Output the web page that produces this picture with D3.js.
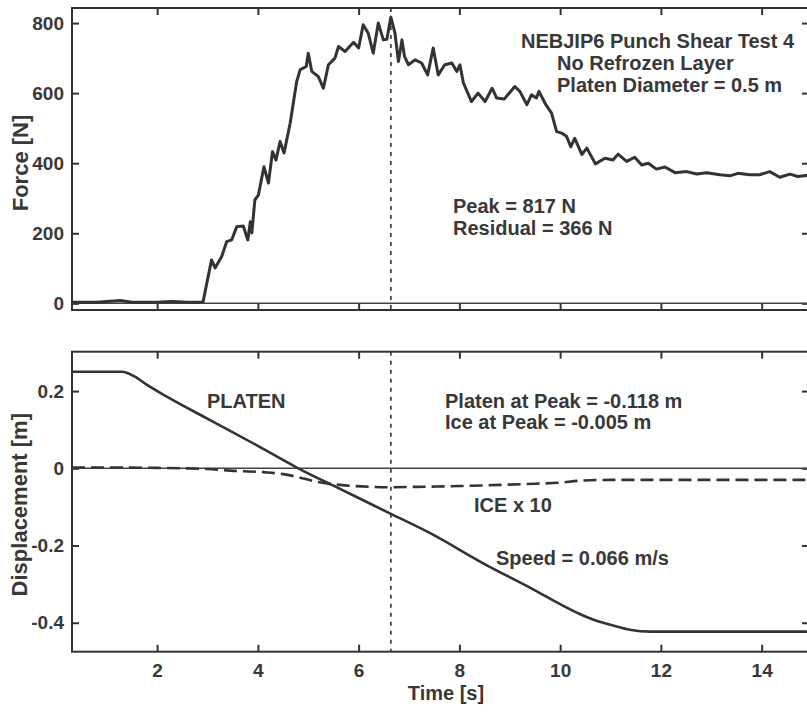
<!DOCTYPE html>
<html>
<head>
<meta charset="utf-8">
<script src="https://cdn.jsdelivr.net/npm/d3@7"></script>
<style>
  body { margin: 0; background: #fff; }
  svg text { font-family: "Liberation Sans", Arial, sans-serif; font-weight: bold; fill: #383838; }
</style>
</head>
<body>
<div id="chart"></div>
<script>
// tick values
const timeTicks = [2, 4, 6, 8, 10, 12, 14];
const forceTicks = [0, 200, 400, 600, 800];
const dispTicks = [-0.4, -0.2, 0, 0.2];

// force record
const forceTime = [
  0.31, 0.8, 1.27, 1.5, 2.0, 2.29, 2.6, 2.91, 3.08, 3.15,
  3.28, 3.38, 3.48, 3.58, 3.71, 3.80, 3.85, 3.88, 3.94, 4.01,
  4.12, 4.21, 4.29, 4.36, 4.44, 4.52, 4.64, 4.77, 4.84, 4.96,
  5.0, 5.07, 5.2, 5.3, 5.40, 5.53, 5.6, 5.73, 5.9, 6.0,
  6.09, 6.19, 6.29, 6.39, 6.49, 6.56, 6.64, 6.72, 6.79, 6.86,
  6.91, 6.99, 7.12, 7.25, 7.37, 7.48, 7.58, 7.71, 7.85, 7.95,
  8.01, 8.08, 8.24, 8.37, 8.51, 8.65, 8.74, 8.89, 9.10, 9.20,
  9.34, 9.43, 9.53, 9.58, 9.70, 9.83, 9.93, 10.03, 10.13, 10.21,
  10.29, 10.43, 10.53, 10.70, 10.89, 11.05, 11.15, 11.32, 11.48, 11.62,
  11.75, 11.91, 12.08, 12.28, 12.51, 12.71, 12.91, 13.17, 13.37, 13.53,
  13.76, 13.96, 14.16, 14.36, 14.56, 14.72, 14.94
];
const forceValue = [
  3, 3, 8, 3, 3, 5, 3, 3, 124, 101,
  133, 176, 181, 219, 221, 181, 233, 201, 295, 309,
  390, 343, 433, 409, 462, 429, 514, 633, 667, 676,
  714, 662, 647, 614, 681, 700, 733, 719, 745, 729,
  795, 771, 714, 800, 752, 754, 817, 772, 690, 752,
  705, 681, 695, 686, 652, 729, 652, 681, 686, 662,
  681, 629, 576, 600, 576, 614, 586, 583, 619, 605,
  567, 595, 586, 605, 571, 543, 490, 486, 476, 447,
  471, 425, 443, 398, 414, 409, 426, 405, 417, 395,
  400, 383, 389, 373, 376, 369, 373, 367, 364, 371,
  367, 367, 376, 360, 369, 362, 366
];

// platen displacement
const platenTime = [0.31, 1.30, 1.55, 1.80, 2.2, 3.05, 4.0, 4.80, 5.5, 6.64, 7.42, 8.5, 9.5, 10.0, 10.4, 10.72, 11.05, 11.38, 11.8, 14.94];
const platenDisp = [0.25, 0.25, 0.238, 0.216, 0.185, 0.125, 0.058, 0.0, -0.045, -0.118, -0.168, -0.248, -0.316, -0.352, -0.378, -0.395, -0.407, -0.418, -0.423, -0.423];

// ice displacement x 10
const iceTime = [0.31, 1.0, 2.0, 3.0, 3.45, 4.11, 4.5, 4.77, 5.17, 5.63, 6.23, 6.64, 7.15, 8.0, 8.8, 9.5, 10.0, 10.4, 11.0, 12.0, 14.94];
const iceDisp = [0.002, 0.002, 0.001, -0.002, -0.006, -0.01, -0.015, -0.022, -0.035, -0.043, -0.048, -0.049, -0.048, -0.046, -0.043, -0.040, -0.037, -0.032, -0.030, -0.030, -0.030];

const peakTime = 6.64;

const topNotes = ["NEBJIP6 Punch Shear Test 4", "No Refrozen Layer", "Platen Diameter = 0.5 m"];
const forceNotes = ["Peak = 817 N", "Residual = 366 N"];
const dispNotes = ["Platen at Peak = -0.118 m", "Ice at Peak = -0.005 m"];

const W = 807, H = 712;
const left = 72, right = 809;
const top1 = { y0: 8, y1: 310 };
const top2 = { y0: 351.7, y1: 651.7 };
const ink = "#333";

const svg = d3.select("#chart").append("svg")
  .attr("width", W)
  .attr("height", H);

const x = d3.scaleLinear().domain([0.31, 14.94]).range([left, right]);
const yF = d3.scaleLinear().domain([-19, 843]).range([top1.y1, top1.y0]);
const yD = d3.scaleLinear().domain([-0.475, 0.302]).range([top2.y1, top2.y0]);

function panel(y, box, yTicks, yFmt, showX) {
  const g = svg.append("g");

  // inward ticks on all four sides
  g.append("g").attr("transform", `translate(0,${box.y1})`)
    .call(d3.axisBottom(x).tickValues(timeTicks).tickSize(-7).tickSizeOuter(0)
      .tickPadding(12).tickFormat(showX ? d3.format("d") : ""));
  g.append("g").attr("transform", `translate(0,${box.y0})`)
    .call(d3.axisTop(x).tickValues(timeTicks).tickSize(-7).tickSizeOuter(0).tickFormat(""));
  g.append("g").attr("transform", `translate(${left},0)`)
    .call(d3.axisLeft(y).tickValues(yTicks).tickSize(-7).tickSizeOuter(0).tickPadding(8).tickFormat(yFmt));
  g.append("g").attr("transform", `translate(${right},0)`)
    .call(d3.axisRight(y).tickValues(yTicks).tickSize(-7).tickSizeOuter(0).tickFormat(""));

  g.selectAll(".domain").remove();
  g.selectAll(".tick line").attr("stroke", ink).attr("stroke-width", 2);
  g.selectAll(".tick text").style("font-size", "19px").attr("fill", "#383838");

  // zero line
  g.append("line")
    .attr("x1", left).attr("x2", right)
    .attr("y1", y(0)).attr("y2", y(0))
    .attr("stroke", "#444").attr("stroke-width", 1.5);

  // peak marker
  g.append("line")
    .attr("x1", x(peakTime)).attr("x2", x(peakTime))
    .attr("y1", box.y0).attr("y2", box.y1)
    .attr("stroke", ink).attr("stroke-width", 1.6)
    .attr("stroke-dasharray", "4,5");

  g.append("rect")
    .attr("x", left).attr("y", box.y0)
    .attr("width", right - left).attr("height", box.y1 - box.y0)
    .attr("fill", "none").attr("stroke", ink).attr("stroke-width", 2);
  return g;
}

// plain hyphen for negatives, like the original plot
const fmtDisp = d => d === 0 ? "0" : d3.format(".1f")(d).replace("\u2212", "-");

const g1 = panel(yF, top1, forceTicks, d3.format("d"), false);
const g2 = panel(yD, top2, dispTicks, fmtDisp, true);

// force trace
const forceLine = d3.line().x(i => x(forceTime[i])).y(i => yF(forceValue[i]));
g1.append("path")
  .attr("d", forceLine(d3.range(forceTime.length)))
  .attr("fill", "none").attr("stroke", ink).attr("stroke-width", 3)
  .attr("stroke-linejoin", "round");

// displacement traces
const platenLine = d3.line().curve(d3.curveMonotoneX).x(i => x(platenTime[i])).y(i => yD(platenDisp[i]));
g2.append("path")
  .attr("d", platenLine(d3.range(platenTime.length)))
  .attr("fill", "none").attr("stroke", ink).attr("stroke-width", 2.6);

const iceLine = d3.line().curve(d3.curveMonotoneX).x(i => x(iceTime[i])).y(i => yD(iceDisp[i]));
g2.append("path")
  .attr("d", iceLine(d3.range(iceTime.length)))
  .attr("fill", "none").attr("stroke", ink).attr("stroke-width", 2.6)
  .attr("stroke-dasharray", "13,6");

// annotations
const note = (g, txt, px, py, size) => g.append("text")
  .attr("x", px).attr("y", py).style("font-size", (size || 20) + "px").text(txt);

note(g1, topNotes[0], 521, 48);
note(g1, topNotes[1], 557, 70);
note(g1, topNotes[2], 557, 92);
note(g1, forceNotes[0], 453, 213);
note(g1, forceNotes[1], 453, 235);

note(g2, "PLATEN", 207, 408);
note(g2, dispNotes[0], 445, 408);
note(g2, dispNotes[1], 445, 429);
note(g2, "ICE x 10", 474, 512);
note(g2, "Speed = 0.066 m/s", 496, 565);

// axis titles
svg.append("text")
  .attr("transform", `translate(28,${(top1.y0 + top1.y1) / 2 + 4}) rotate(-90)`)
  .attr("text-anchor", "middle").style("font-size", "22px").text("Force [N]");
svg.append("text")
  .attr("transform", `translate(27,${(top2.y0 + top2.y1) / 2 + 3}) rotate(-90)`)
  .attr("text-anchor", "middle").style("font-size", "22px").text("Displacement [m]");
svg.append("text")
  .attr("x", 446).attr("y", 700)
  .attr("text-anchor", "middle").style("font-size", "20px").text("Time [s]");
</script>
</body>
</html>
